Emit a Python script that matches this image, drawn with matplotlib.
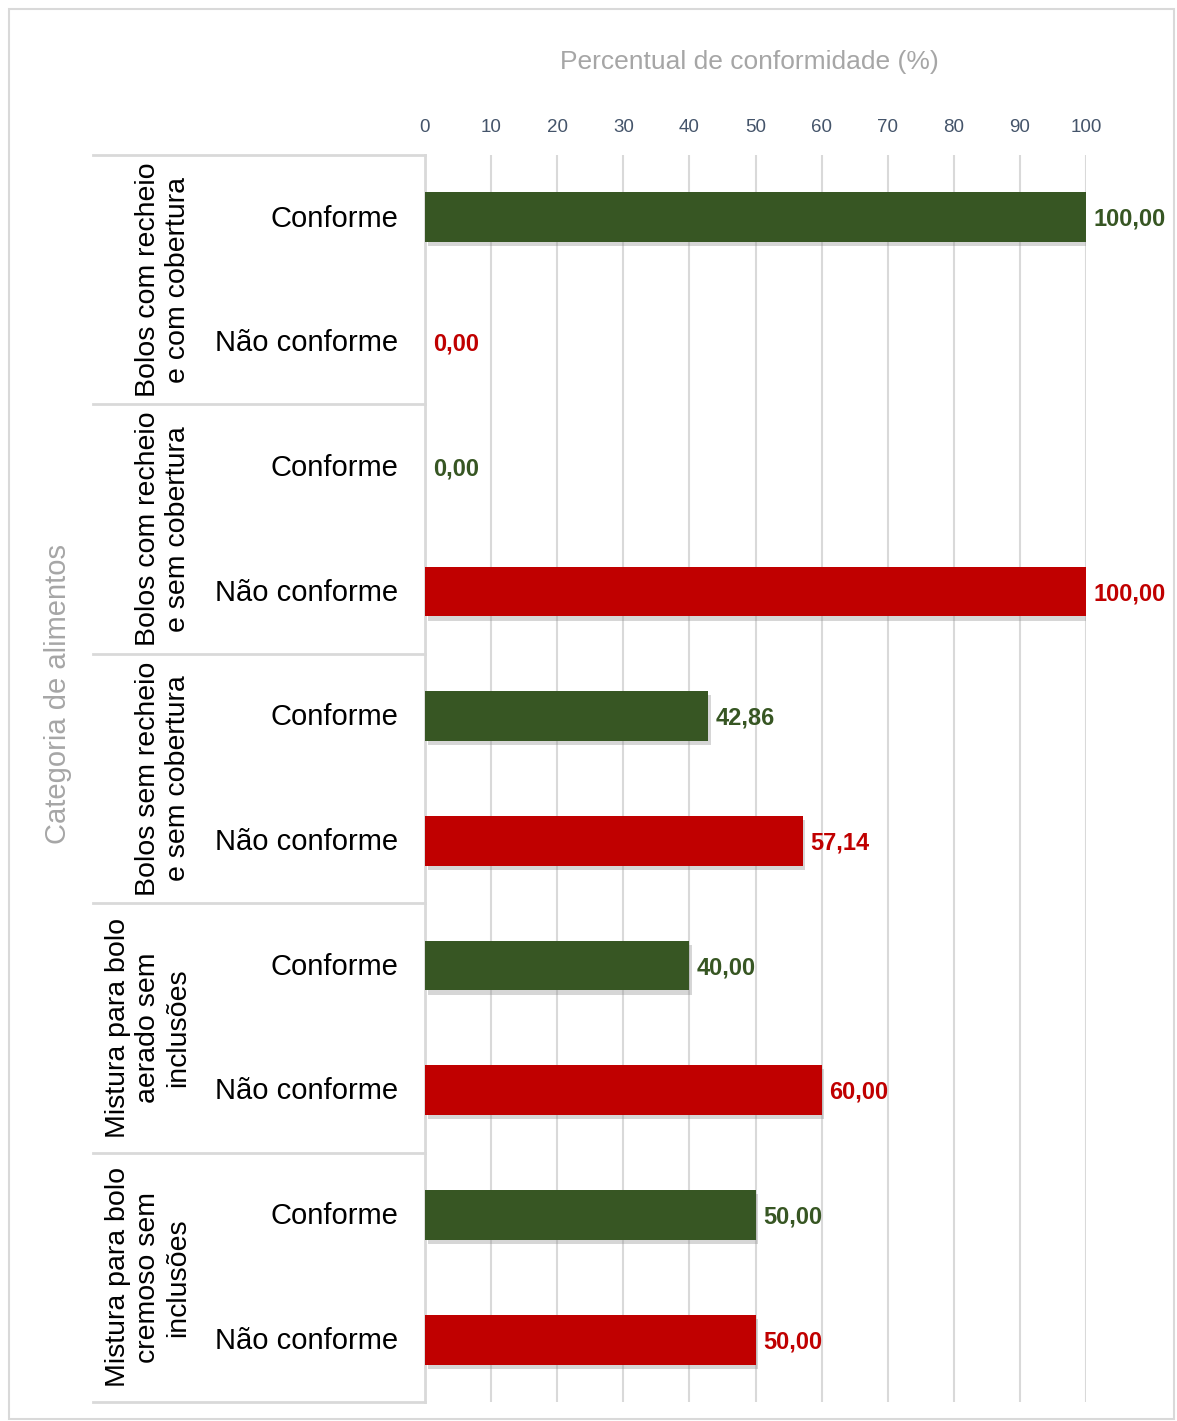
import matplotlib
matplotlib.use('Agg')
import matplotlib.pyplot as plt
import matplotlib.patheffects as pe
from matplotlib.transforms import blended_transform_factory
from matplotlib.patches import Rectangle

plt.rcParams['font.family'] = ['Liberation Sans', 'DejaVu Sans']

GROUPS = [
    "Bolos com recheio\ne com cobertura",
    "Bolos com recheio\ne sem cobertura",
    "Bolos sem recheio\ne sem cobertura",
    "Mistura para bolo\naerado sem\ninclusões",
    "Mistura para bolo\ncremoso sem\ninclusões",
]
STATUS = ["Conforme", "Não conforme"]
CONFORME = [100.00, 0.00, 42.86, 40.00, 50.00]
NAO_CONFORME = [0.00, 100.00, 57.14, 60.00, 50.00]
X_TICKS = [0, 10, 20, 30, 40, 50, 60, 70, 80, 90, 100]

GREEN = '#375623'
RED = '#C00000'
LINE = '#D9D9D9'

W, H = 1177, 1421


def fx(px):
    return px / W


def fy(py):
    return 1 - py / H


fig = plt.figure(figsize=(W / 100, H / 100), dpi=100)
ax = fig.add_axes([fx(425), fy(1402), fx(1086) - fx(425), fy(155) - fy(1402)])

# outer frame
fig.patches.append(Rectangle((fx(9), fy(1419)), fx(1174) - fx(9), fy(9) - fy(1419),
                             transform=fig.transFigure, fill=False,
                             edgecolor=LINE, linewidth=1.5))

shadow = [pe.SimplePatchShadow(offset=(2, -3), shadow_rgbFace='#8c8c8c', alpha=0.35),
          pe.Normal()]

labels = []
for g in range(len(GROUPS)):
    for s, (vals, col) in enumerate([(CONFORME, GREEN), (NAO_CONFORME, RED)]):
        pos = 2 * g + s
        v = vals[g]
        if v > 0:
            bar = ax.barh(pos, v, height=0.4, color=col, zorder=3)
            for p in bar.patches:
                p.set_path_effects(shadow)
        ax.annotate(f'{v:.2f}'.replace('.', ','), xy=(v, pos), xytext=(5.5, -1.5),
                    textcoords='offset points', va='center', ha='left',
                    fontsize=17, fontweight='bold', color=col, zorder=4,
                    annotation_clip=False)
        labels.append(STATUS[s])

ax.set_xlim(0, 100)
ax.set_ylim(9.5, -0.5)
ax.set_xticks(X_TICKS)
ax.set_xticklabels([str(t) for t in X_TICKS], fontsize=13.5, color='#44546A')
ax.xaxis.tick_top()
ax.tick_params(axis='x', length=0, pad=14)
ax.set_yticks([])
ax.grid(axis='x', color=LINE, linewidth=1.5, zorder=0)
ax.set_axisbelow(True)
for side in ['top', 'right', 'bottom']:
    ax.spines[side].set_visible(False)
ax.spines['left'].set_color(LINE)
ax.spines['left'].set_linewidth(2)

# category table on the left
trans = blended_transform_factory(fig.transFigure, ax.transData)
for b in range(len(GROUPS) + 1):
    ax.plot([fx(93), fx(425)], [2 * b - 0.5, 2 * b - 0.5], transform=trans,
            color=LINE, linewidth=2, clip_on=False, zorder=1)

for i, lab in enumerate(labels):
    ax.text(fx(398), i + 0.01, lab, transform=trans, ha='right', va='center',
            fontsize=21, color='black')

for g, name in enumerate(GROUPS):
    ax.text(fx(191), 2 * g + 0.5, name, transform=trans, rotation=90,
            ha='right', va='center', multialignment='center',
            fontsize=20.5, color='black', linespacing=1.2)

fig.text(fx(749), fy(62), 'Percentual de conformidade (%)', ha='center', va='center',
         fontsize=19, color='#A6A6A6')
fig.text(fx(58), fy(694), 'Categoria de alimentos', ha='center', va='center',
         rotation=90, fontsize=21, color='#A6A6A6')

fig.savefig('out.png', dpi=100)
